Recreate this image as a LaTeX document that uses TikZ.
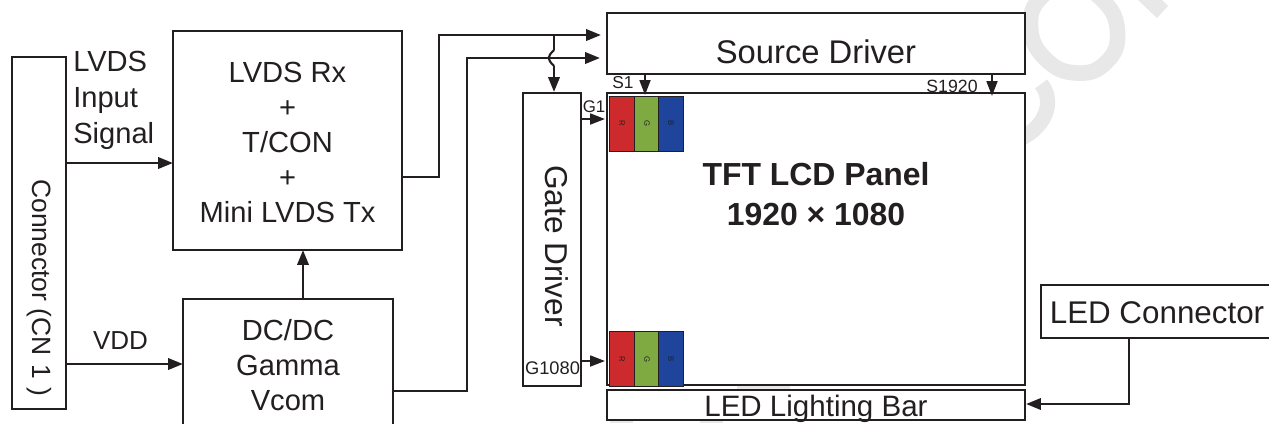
\documentclass[tikz,border=0pt]{standalone}
\usepackage{fontspec}
\setmainfont{Liberation Sans}
\usetikzlibrary{arrows.meta}
\definecolor{ink}{HTML}{231F20}
\definecolor{wmark}{HTML}{E8E8E8}
\definecolor{cellr}{HTML}{CC2A2C}
\definecolor{cellg}{HTML}{7FAA42}
\definecolor{cellb}{HTML}{1F449B}
\begin{document}
\begin{tikzpicture}[x=0.025cm,y=-0.025cm,
    box/.style={draw=ink,fill=white,line width=1.5pt,inner sep=0pt},
    txt/.style={inner sep=0pt,text=ink,align=center},
    txtl/.style={inner sep=0pt,text=ink,align=left,anchor=west},
    sig/.style={draw=ink,line width=1.9pt,-{Triangle[length=0.37cm,width=0.28cm]}},
    sigs/.style={draw=ink,line width=1.5pt,-{Triangle[length=0.37cm,width=0.27cm]}},
    wire/.style={draw=ink,line width=1.5pt},
    cell/.style={draw=ink,line width=0.6pt,minimum width=0.61cm,minimum height=1.375cm,inner sep=0pt,text=ink,font=\fontsize{5.5}{5.5}\selectfont}]
  \clip (0,0) rectangle (1269,423);
  \useasboundingbox (0,0) rectangle (1269,423);

  % watermark
  \draw[wmark,line width=0.39cm] plot[smooth cycle,tension=0.8] coordinates {(1106.5,62) (1117.5,32) (1103,0.5) (1071.5,-14) (1041.5,-3) (1030.5,27) (1045,58.5) (1076.5,73)};
  \fill[wmark] (1138,0) -- (1162,0) -- (1168,6) -- (1157,18) -- cycle;
  \draw[wmark,line width=0.38cm] (1041,84) .. controls (1053,98) and (1050,124) .. (1020,139);
  \fill[wmark] (737,384) rectangle (790,392);
  \fill[wmark] (610,418) rectangle (633,423);
  \fill[wmark] (700,418) rectangle (723,423);

  % blocks
  \path
  (39,233) node[box,minimum width=1.35cm,minimum height=8.8cm](conn) {}
  (287.5,140.5) node[box,minimum width=5.725cm,minimum height=5.475cm](lvds) {}
  (288,365) node[box,minimum width=5.25cm,minimum height=3.3cm](dcdc) {}
  (816,43.5) node[box,minimum width=10.45cm,minimum height=1.525cm](source) {}
  (552,239.5) node[box,minimum width=1.45cm,minimum height=7.325cm](gate) {}
  (816,239) node[box,minimum width=10.45cm,minimum height=7.3cm](panel) {}
  (816,405) node[box,minimum width=10.45cm,minimum height=0.75cm](bar) {}
  (1157,311.5) node[box,minimum width=5.8cm,minimum height=1.325cm](ledconn) {}
  ;

  % names of the blocks
  \path
  (39,288) node[txt,rotate=-90,font=\fontsize{18.8}{23}\selectfont](conntxt) {Connector (CN\,\,1\,\,)}
  (557,246) node[txt,rotate=-90,font=\fontsize{22.5}{27}\selectfont](gatetxt) {Gate Driver}
  (287.5,142.5) node[txt,font=\fontsize{20.7}{24.9}\selectfont](lvdstxt) {LVDS Rx\\+\\T/CON\\+\\Mini LVDS Tx}
  (288,365) node[txt,font=\fontsize{20.7}{24.9}\selectfont](dcdctxt) {DC/DC\\Gamma\\Vcom}
  (816,52) node[txt,font=\fontsize{23.3}{28}\selectfont](sourcetxt) {Source Driver}
  (816,409) node[txt,font=\fontsize{21}{25}\selectfont](bartxt) {LED Lighting Bar}
  (1157,313) node[txt,font=\fontsize{22.3}{27}\selectfont](ledtxt) {LED Connector}
  ;

  % panel cells
  \foreach \x/\c/\l/\n in {622/cellr/R/r,647/cellg/G/g,671/cellb/B/b} {
    \node[cell,fill=\c] (\n top) at (\x,123.5) {\rotatebox{-90}{\l}};
    \node[cell,fill=\c] (\n bot) at (\x,359) {\rotatebox{-90}{\l}};
  }

  % labels
  \path
  (816,194) node[txt,font=\bfseries\fontsize{22.7}{28.4}\selectfont](tft) {TFT LCD Panel\\1920 × 1080}
  (73,100) node[txtl,font=\fontsize{20.7}{25.6}\selectfont](lvdssig) {LVDS\\Input\\Signal}
  (120.5,341) node[txt,font=\fontsize{18.5}{22}\selectfont](vdd) {VDD}
  (623,83) node[txt,font=\fontsize{12.3}{14}\selectfont](s1) {S1}
  (952,86) node[txt,font=\fontsize{12.6}{14}\selectfont](s1920) {S1920}
  (594,107) node[txt,font=\fontsize{12}{14}\selectfont](g1) {G1}
  (552.5,368) node[txt,font=\fontsize{13}{15}\selectfont](g1080) {G1080}
  ;

  % free ends of the connectors
  \path
  (66,163) coordinate(lvdsa)
  (173,163) coordinate(lvdsb)
  (66,364) coordinate(vdda)
  (183,364) coordinate(vddb)
  (303,299) coordinate(fba)
  (303,250) coordinate(fbb)
  (402,177) coordinate(txa)
  (439,35) coordinate(txb)
  (601,35) coordinate(txc)
  (393,391) coordinate(dca)
  (467,58) coordinate(dcb)
  (600,58) coordinate(dcc)
  (554,35) coordinate(hopa)
  (554,50) coordinate(hopb)
  (554,66) coordinate(hopc)
  (554,92) coordinate(hopd)
  (645,74) coordinate(sa)
  (645,95) coordinate(sb)
  (992,74) coordinate(sc)
  (992,96) coordinate(sd)
  (582,119) coordinate(ga)
  (605,119) coordinate(gb)
  (582,361) coordinate(gc)
  (605,361) coordinate(gd)
  (1129,338) coordinate(leda)
  (1026,404) coordinate(ledb)
  ;

  \draw[sig] (lvdsa) -- (lvdsb);
  \draw[sig] (vdda) -- (vddb);
  \draw[sig] (fba) -- (fbb);
  \draw[sig] (txa) -| (txb) -- (txc);
  \draw[sig] (dca) -| (dcb) -- (dcc);
  \draw[wire] (hopa) -- (hopb);
  \draw[wire] (hopb) to[out=225,in=135,looseness=1.6] (hopc);
  \draw[sig] (hopc) -- (hopd);
  \draw[sigs] (sa) -- (sb);
  \draw[sigs] (sc) -- (sd);
  \draw[sigs] (ga) -- (gb);
  \draw[sigs] (gc) -- (gd);
  \draw[sig] (leda) |- (ledb);
\end{tikzpicture}
\end{document}
